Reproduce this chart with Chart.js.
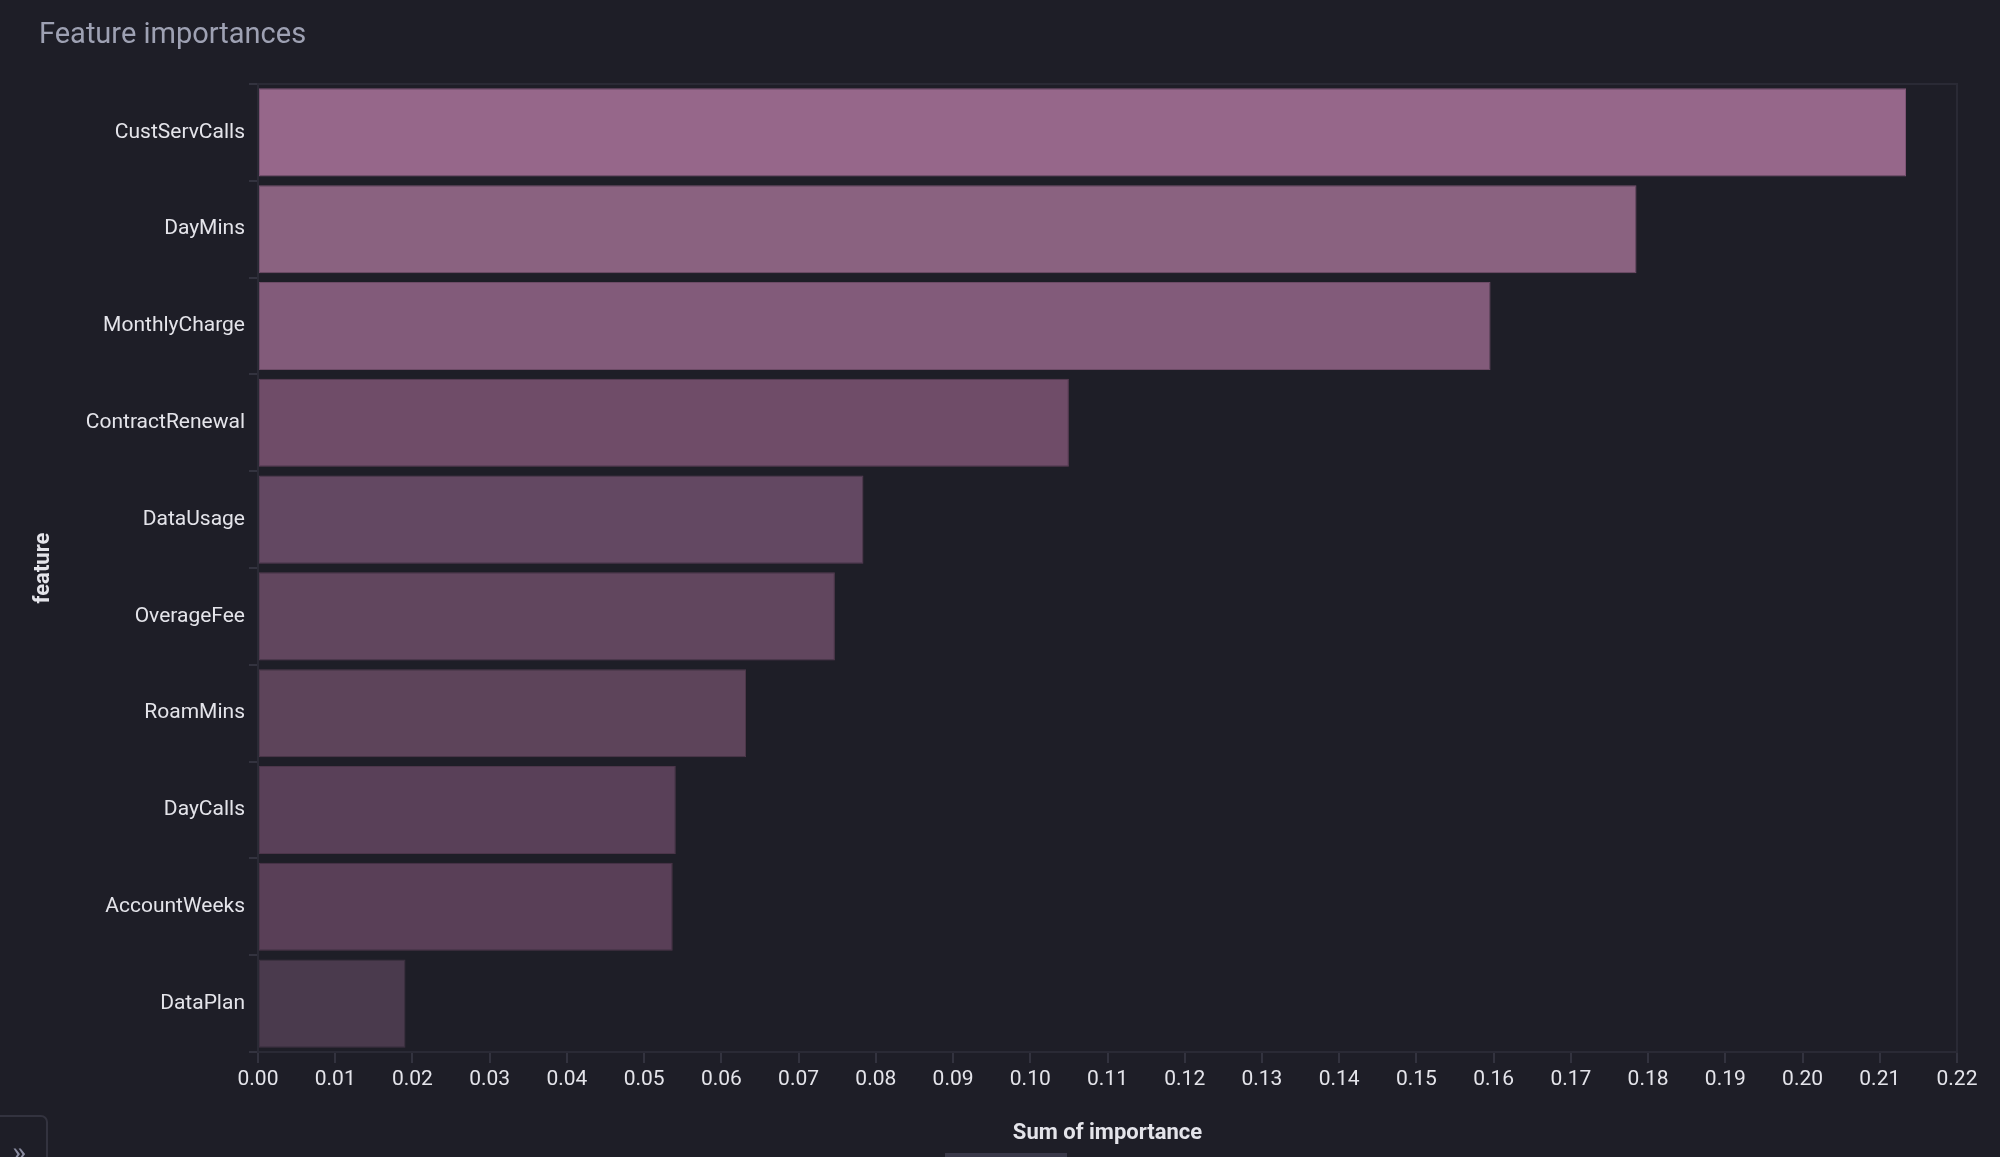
<!DOCTYPE html>
<html lang="en">
<head>
    <meta charset="UTF-8">
    <title>Feature importances</title>
    <style>
        html, body {
            margin: 0;
            padding: 0;
            background-color: #1e1e27;
            overflow: hidden;
        }
        .wrap {
            position: relative;
            width: 2000px;
            height: 1157px;
        }
        .chart-title {
            position: absolute;
            left: 39px;
            top: 16px;
            font-family: Roboto, sans-serif;
            font-size: 29px;
            color: #9ea1b3;
        }
        .side-toggle {
            position: absolute;
            left: -2px;
            top: 1115px;
            width: 50px;
            height: 50px;
            border: 2px solid #33333f;
            border-radius: 0 7px 0 0;
            color: #8a8ca0;
            font-family: Roboto, sans-serif;
            font-size: 30px;
            line-height: 1;
            box-sizing: border-box;
            padding: 20px 0 0 12px;
        }
        .handle {
            position: absolute;
            left: 945px;
            top: 1153px;
            width: 122px;
            height: 4px;
            background: #3a3949;
        }
        canvas {
            position: absolute;
            left: 0;
            top: 0;
        }
    </style>
    <script src="https://cdn.jsdelivr.net/npm/chart.js"></script>
</head>
<body>
    <div class="wrap">
        <canvas id="importanceChart" width="2000" height="1157"></canvas>
        <div class="chart-title">Feature importances</div>
        <div class="side-toggle">&raquo;</div>
        <div class="handle"></div>
    </div>

    <script>
        // Data
        const features = ['CustServCalls', 'DayMins', 'MonthlyCharge', 'ContractRenewal', 'DataUsage',
                          'OverageFee', 'RoamMins', 'DayCalls', 'AccountWeeks', 'DataPlan'];
        const importance = [0.2134, 0.1785, 0.1596, 0.1050, 0.0784, 0.0747, 0.0632, 0.0541, 0.0537, 0.0191];
        const barColors = ['#96678a', '#8a6280', '#825b7a', '#6f4c68', '#634862',
                           '#61465e', '#5d445a', '#594058', '#593f57', '#4a3a4d'];
        const borderColors = ['#7e5475', '#74506c', '#6c4b66', '#5e3f58', '#553c53',
                              '#533b50', '#4f394c', '#4c364a', '#4c3549', '#3f3142'];
        const xTicks = [0, 0.01, 0.02, 0.03, 0.04, 0.05, 0.06, 0.07, 0.08, 0.09, 0.10,
                        0.11, 0.12, 0.13, 0.14, 0.15, 0.16, 0.17, 0.18, 0.19, 0.20, 0.21, 0.22];

        const axisColor = '#33333f';
        const labelColor = '#e4e4ea';

        // Draw a thin frame round the plot area
        const frame = {
            id: 'frame',
            beforeDatasetsDraw(chart) {
                const {ctx, chartArea: a} = chart;
                ctx.save();
                ctx.strokeStyle = '#2a2a35';
                ctx.lineWidth = 2;
                ctx.strokeRect(a.left, a.top, a.right - a.left, a.bottom - a.top);
                ctx.restore();
            }
        };

        const ctx = document.getElementById('importanceChart').getContext('2d');
        const importanceChart = new Chart(ctx, {
            type: 'bar',
            data: {
                labels: features,
                datasets: [{
                    label: 'Sum of importance',
                    data: importance,
                    backgroundColor: barColors,
                    borderColor: borderColors,
                    borderWidth: 1,
                    borderSkipped: false,
                    barPercentage: 0.91,
                    categoryPercentage: 1.0
                }]
            },
            options: {
                indexAxis: 'y',
                responsive: false,
                animation: false,
                layout: {
                    padding: { left: 30, right: 43, top: 84, bottom: 0 }
                },
                scales: {
                    x: {
                        type: 'linear',
                        min: 0,
                        max: 0.22,
                        afterBuildTicks: (scale) => {
                            scale.ticks = xTicks.map(v => ({ value: v }));
                        },
                        afterFit: (scale) => { scale.height = 105; },
                        ticks: {
                            color: labelColor,
                            font: { family: 'Roboto', size: 21 },
                            padding: 4,
                            maxRotation: 0,
                            autoSkip: false,
                            callback: (v) => Number(v).toFixed(2)
                        },
                        grid: {
                            drawOnChartArea: false,
                            drawTicks: true,
                            tickLength: 11,
                            color: axisColor,
                            lineWidth: 2
                        },
                        border: { color: axisColor, width: 2 },
                        title: {
                            display: true,
                            text: 'Sum of importance',
                            color: labelColor,
                            font: { family: 'Roboto', size: 22, weight: 'bold' },
                            padding: { top: 0, bottom: 10 }
                        }
                    },
                    y: {
                        afterFit: (scale) => { scale.width = 228; },
                        ticks: {
                            color: labelColor,
                            font: { family: 'Roboto', size: 21 },
                            padding: 4
                        },
                        grid: {
                            drawOnChartArea: false,
                            drawTicks: true,
                            tickLength: 9,
                            color: axisColor,
                            lineWidth: 2
                        },
                        border: { color: axisColor, width: 2 },
                        title: {
                            display: true,
                            text: 'feature',
                            color: labelColor,
                            font: { family: 'Roboto', size: 22, weight: 'bold' },
                            padding: { top: 0, bottom: 0 }
                        }
                    }
                },
                plugins: {
                    legend: { display: false },
                    tooltip: { enabled: false }
                }
            },
            plugins: [frame]
        });
    </script>
</body>
</html>
